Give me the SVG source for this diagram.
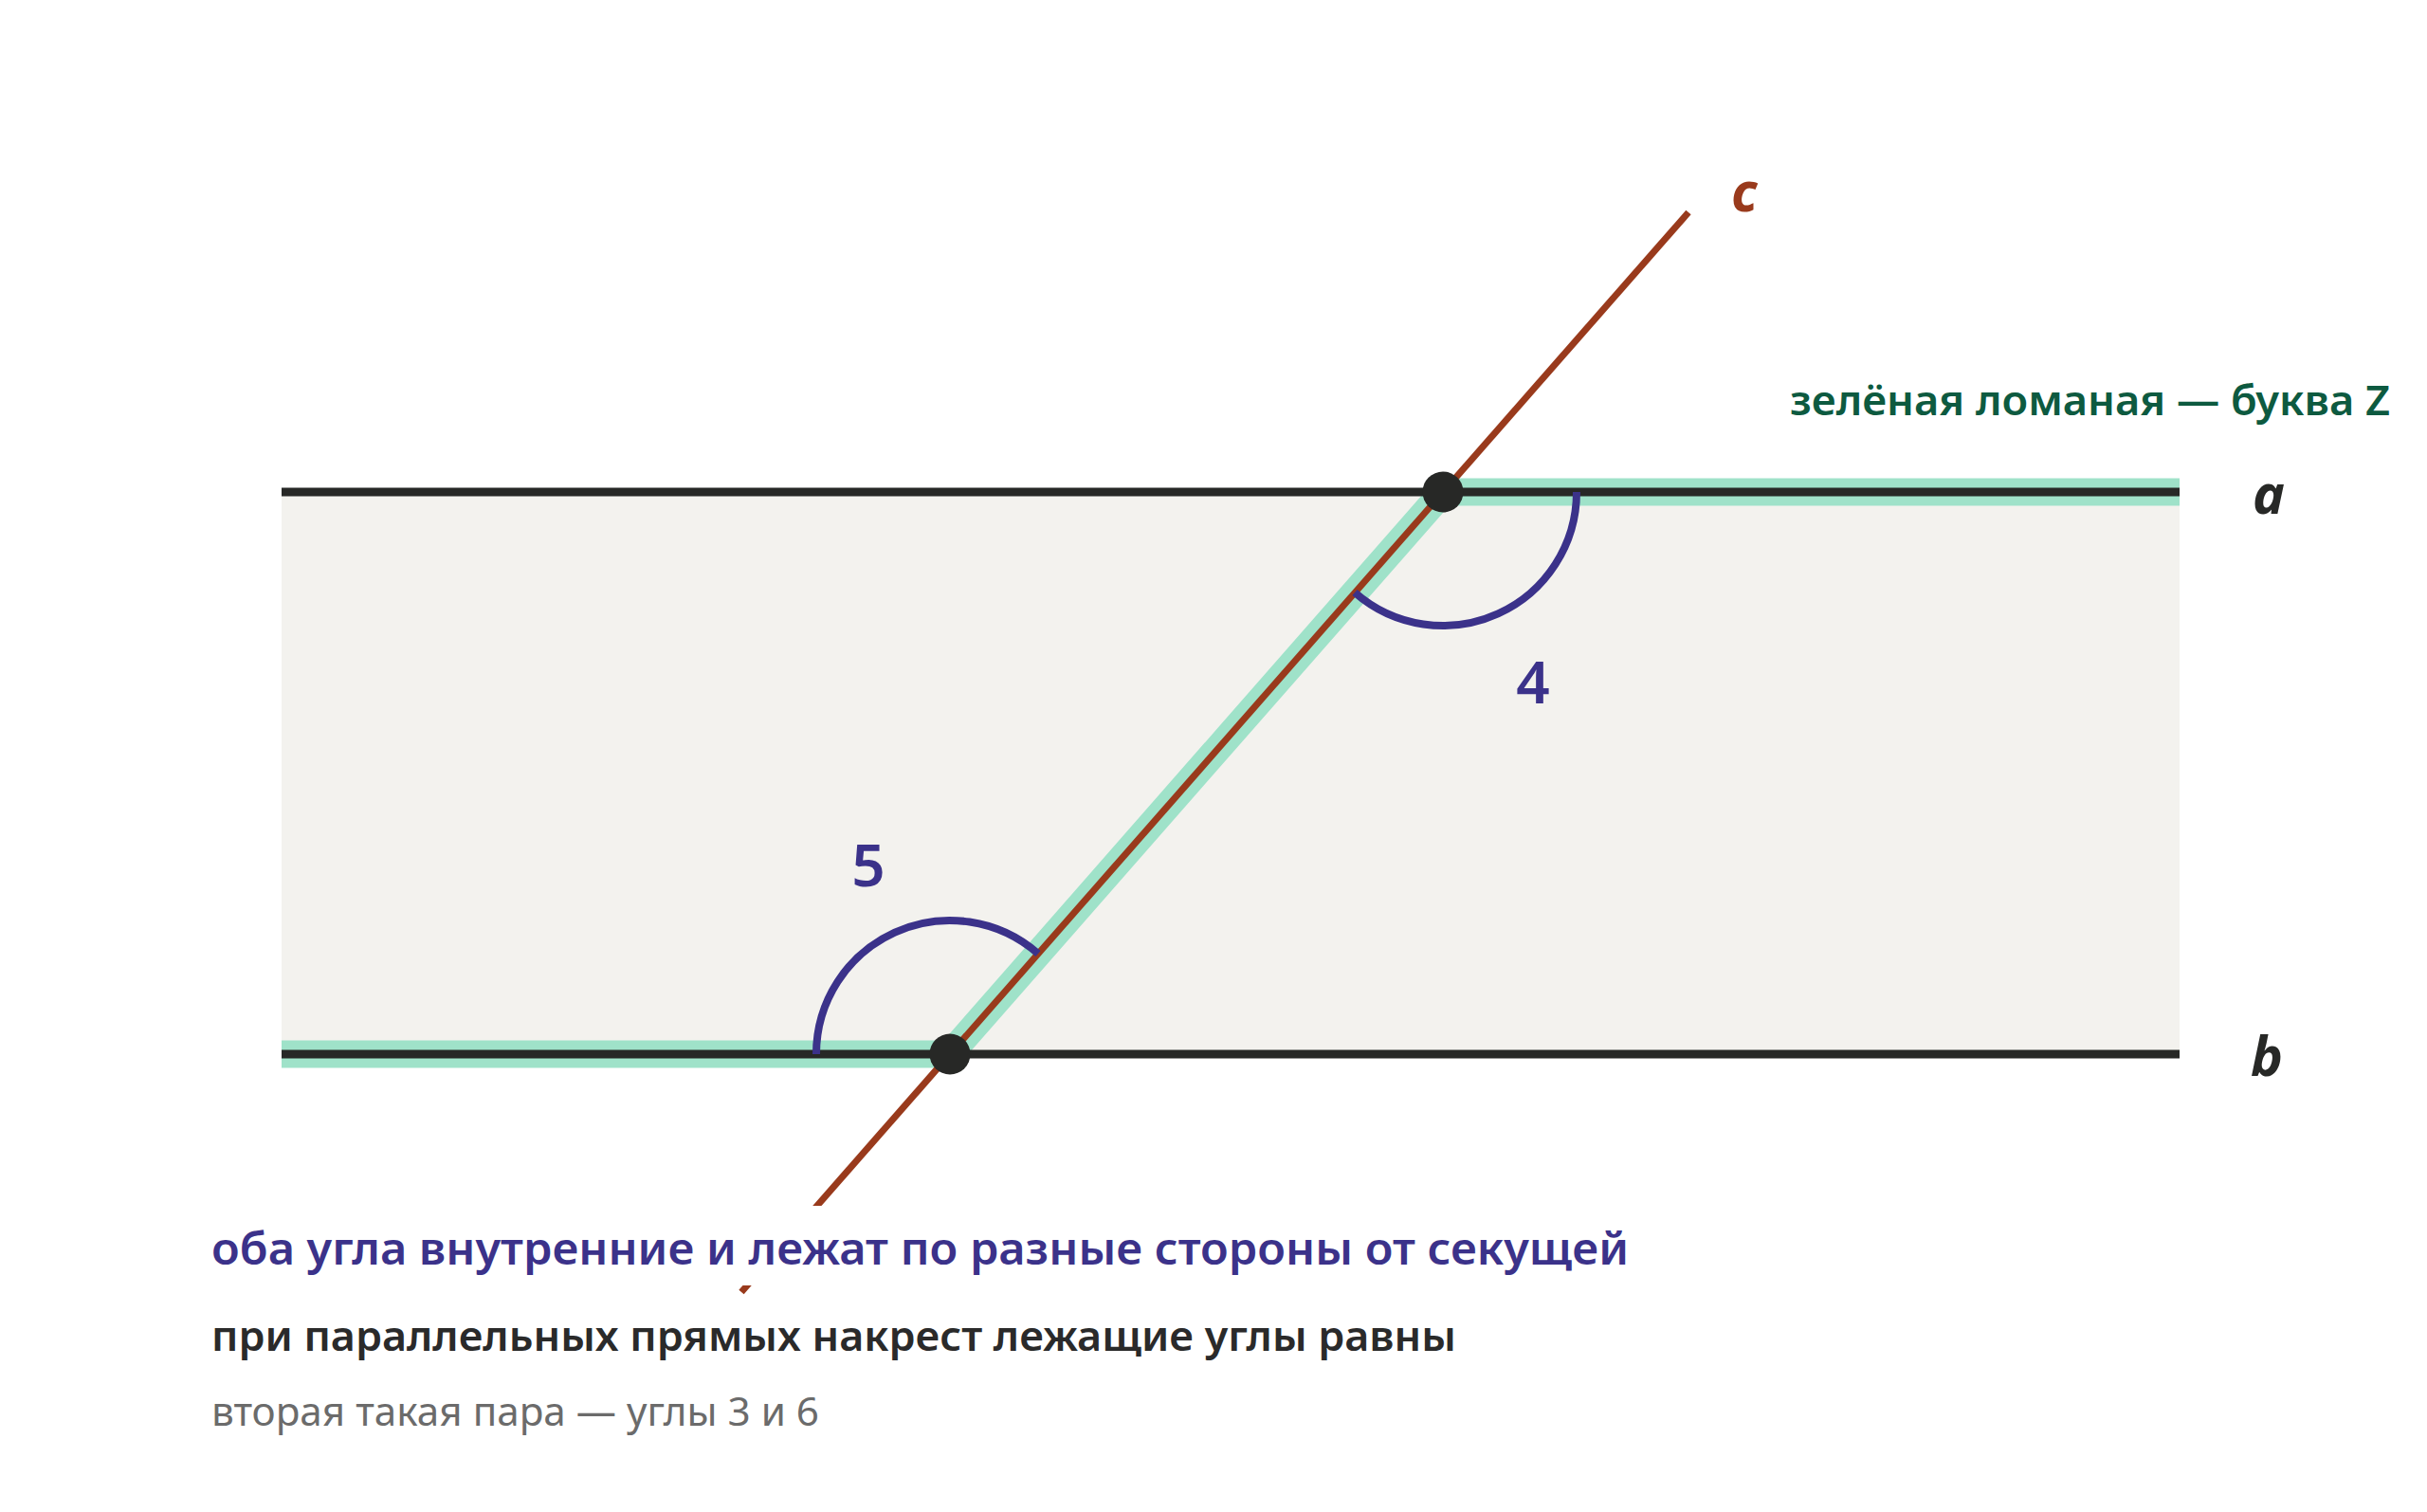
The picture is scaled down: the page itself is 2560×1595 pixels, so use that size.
<svg xmlns="http://www.w3.org/2000/svg" width="2560" height="1595" viewBox="0 0 2560 1595">
<style>
.line{stroke:#272826;stroke-width:9;fill:none}
.green{stroke:#9fe2c9;stroke-width:29;fill:none;stroke-linejoin:round}
.trans{stroke:#993a1c;stroke-width:7;fill:none}
.arc{stroke:#3b328a;stroke-width:8;fill:none}
.dot{fill:#272826}
.lbl{font-family:"Noto Sans","Open Sans",sans-serif;font-style:italic;font-weight:700;font-size:57px;fill:#272826}
.num{font-family:"Noto Sans","Open Sans",sans-serif;font-weight:600;font-size:62px;fill:#3b328a;text-anchor:middle}
.t1{font-family:"Noto Sans","Open Sans",sans-serif;font-weight:600;font-size:46px;fill:#3b328a}
.t2{font-family:"Noto Sans","Open Sans",sans-serif;font-weight:600;font-size:44px;fill:#2a2a2a}
.t3{font-family:"Noto Sans","Open Sans",sans-serif;font-weight:400;font-size:41px;fill:#6b6b6b}
.tz{font-family:"Noto Sans","Open Sans",sans-serif;font-weight:600;font-size:44px;fill:#0d5a40}
</style>
<rect width="2560" height="1595" fill="#ffffff"/>
<g id="band">
<rect x="297" y="519" width="2002" height="593" fill="#f3f2ee"/>
</g>
<g id="connectors">
<polyline class="green" points="2299,519 1522,519 1002,1112 297,1112"/>
<line id="line-a" class="line" x1="297" y1="519" x2="2299" y2="519"/>
<line id="line-b" class="line" x1="297" y1="1112" x2="2299" y2="1112"/>
<line id="line-c" class="trans" x1="1781" y1="224" x2="782" y2="1363"/>
</g>
<g id="angle4">
<path class="arc" d="M1663 519 A141 141 0 0 1 1429 625"/>
<text class="num" x="1617" y="742">4</text>
</g>
<g id="angle5">
<path class="arc" d="M861 1112 A141 141 0 0 1 1095 1006"/>
<text class="num" x="916" y="935">5</text>
</g>
<g id="point-top"><circle class="dot" cx="1522" cy="519" r="21.5"/></g>
<g id="point-bottom"><circle class="dot" cx="1002" cy="1112" r="21.5"/></g>
<g id="label-a"><text class="lbl" x="2376" y="542">a</text></g>
<g id="label-b"><text class="lbl" x="2374" y="1135">b</text></g>
<g id="label-c"><text class="lbl" x="1826" y="223" style="fill:#993a1c">c</text></g>
<g id="note-z"><text class="tz" x="1888" y="438" textLength="633" lengthAdjust="spacingAndGlyphs">зелёная ломаная — буква Z</text></g>
<g id="captions">
<rect x="210" y="1272" width="1530" height="84" fill="#ffffff"/>
<text class="t1" x="223" y="1334" textLength="1495" lengthAdjust="spacingAndGlyphs">оба угла внутренние и лежат по разные стороны от секущей</text>
<text class="t2" x="223" y="1425" textLength="1313" lengthAdjust="spacingAndGlyphs">при параллельных прямых накрест лежащие углы равны</text>
<text class="t3" x="223" y="1504" textLength="641" lengthAdjust="spacingAndGlyphs">вторая такая пара — углы 3 и 6</text>
</g>
</svg>
